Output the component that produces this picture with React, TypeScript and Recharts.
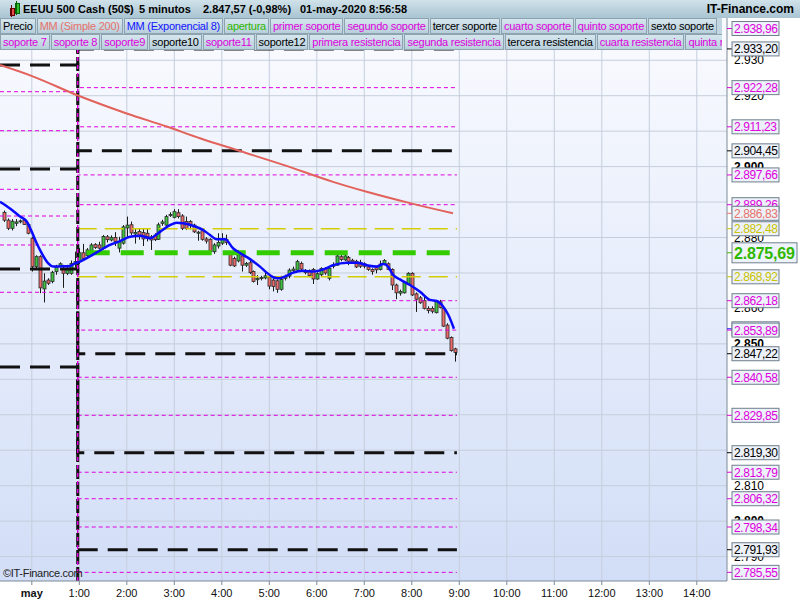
import React from 'react';
import { ComposedChart, Bar, Line, XAxis, YAxis, CartesianGrid, ReferenceLine } from 'recharts';

// time axis: hours after 00:00 on 1 May (negative = 30 Apr)
const X_MIN = -0.6695;
const X_MAX = 14.636;
const FIRST_CANDLE = -35 / 60; // 23:25
const SESSION_SPLIT = 58 / 60;
const LEVEL_END = 8.95;

const HOUR_TICKS = [0, 1, 2, 3, 4, 5, 6, 7, 8, 9, 10, 11, 12, 13, 14];
const HOUR_LABELS = ['may', '1:00', '2:00', '3:00', '4:00', '5:00', '6:00', '7:00', '8:00', '9:00', '10:00', '11:00', '12:00', '13:00', '14:00'];

const Y_MIN = 2783.11;
const Y_MAX = 2947.0;
const ROUND_TICKS = [2930, 2920, 2910, 2900, 2890, 2880, 2870, 2860, 2850, 2840, 2830, 2820, 2810, 2800, 2790];

// 5 minute candles, 23:25 -> 8:55
const OPEN = [
  2887.1, 2884.9, 2882.6, 2884.0, 2884.5, 2884.9, 2883.7, 2879.8, 2871.8, 2874.6,
  2865.5, 2868.0, 2867.6, 2870.4, 2872.0, 2871.3, 2869.9, 2869.9, 2872.7, 2873.2,
  2875.7, 2874.9, 2876.0, 2878.0, 2877.9, 2877.0, 2880.2, 2879.3, 2880.0, 2877.0,
  2878.4, 2882.7, 2883.6, 2881.0, 2881.7, 2881.4, 2881.2, 2880.2, 2880.7, 2879.5,
  2884.0, 2883.5, 2886.2, 2885.7, 2887.0, 2886.1, 2884.5, 2884.5, 2883.5, 2881.2,
  2881.9, 2879.6, 2879.5, 2876.0, 2877.6, 2878.4, 2879.5, 2875.6, 2874.1, 2873.4,
  2874.8, 2872.2, 2872.9, 2870.4, 2868.1, 2868.4, 2868.6, 2868.8, 2868.0, 2867.8,
  2865.4, 2868.5, 2869.1, 2870.7, 2870.8, 2872.7, 2870.6, 2870.7, 2871.0, 2868.3,
  2869.5, 2871.3, 2868.5, 2871.9, 2872.2, 2874.6, 2873.7, 2874.4, 2873.6, 2873.3,
  2873.0, 2872.6, 2871.7, 2871.0, 2871.5, 2871.0, 2872.5, 2872.6, 2871.0, 2866.6,
  2864.3, 2864.4, 2866.9, 2869.9, 2864.1, 2863.0, 2862.2, 2860.0, 2860.0, 2858.8,
  2861.9, 2860.0, 2855.3, 2851.8, 2848.6,
];
const HIGH = [
  2887.6, 2885.4, 2885.2, 2885.2, 2885.1, 2885.3, 2884.0, 2880.2, 2875.0, 2875.0,
  2869.9, 2868.5, 2870.6, 2872.3, 2873.0, 2872.3, 2872.3, 2873.5, 2876.0, 2877.0,
  2878.2, 2877.0, 2878.4, 2878.4, 2878.8, 2880.7, 2880.7, 2880.6, 2881.5, 2880.2,
  2883.5, 2885.9, 2884.5, 2882.5, 2882.5, 2882.5, 2882.5, 2880.7, 2881.2, 2884.2,
  2885.0, 2886.4, 2887.1, 2888.0, 2888.0, 2886.6, 2885.9, 2884.9, 2883.9, 2881.9,
  2882.2, 2880.1, 2879.8, 2878.4, 2881.2, 2881.2, 2880.8, 2876.0, 2874.6, 2876.5,
  2875.1, 2873.1, 2873.5, 2870.7, 2869.4, 2869.2, 2870.0, 2869.4, 2868.5, 2868.2,
  2869.2, 2869.5, 2871.3, 2871.8, 2873.7, 2873.2, 2871.1, 2871.0, 2871.4, 2870.2,
  2871.6, 2871.6, 2871.6, 2873.0, 2875.1, 2875.1, 2875.1, 2874.8, 2874.0, 2873.7,
  2873.7, 2873.0, 2872.0, 2871.3, 2872.0, 2873.5, 2873.9, 2873.0, 2871.3, 2867.0,
  2865.3, 2867.6, 2870.2, 2870.2, 2864.5, 2863.5, 2863.5, 2860.6, 2860.6, 2862.2,
  2862.4, 2860.6, 2855.8, 2852.1, 2848.9,
];
const LOW = [
  2884.4, 2882.1, 2882.0, 2883.2, 2884.0, 2883.6, 2880.9, 2870.4, 2870.8, 2864.3,
  2861.7, 2866.6, 2867.1, 2869.5, 2871.6, 2865.8, 2869.4, 2869.5, 2871.5, 2872.5,
  2873.9, 2874.4, 2875.6, 2876.8, 2876.6, 2876.6, 2878.6, 2878.9, 2877.6, 2875.8,
  2878.0, 2880.0, 2880.7, 2878.3, 2879.4, 2877.6, 2878.9, 2876.5, 2879.0, 2879.3,
  2883.3, 2883.2, 2885.8, 2885.4, 2885.4, 2882.1, 2882.1, 2882.3, 2881.3, 2879.1,
  2879.1, 2878.3, 2875.7, 2875.4, 2876.9, 2877.9, 2877.9, 2871.9, 2871.7, 2873.0,
  2870.4, 2871.7, 2869.7, 2867.3, 2866.6, 2867.9, 2868.2, 2865.4, 2864.8, 2864.4,
  2865.0, 2867.9, 2868.5, 2870.2, 2870.4, 2870.6, 2869.6, 2868.8, 2866.9, 2868.1,
  2869.0, 2869.5, 2867.9, 2871.3, 2872.0, 2873.3, 2873.4, 2872.2, 2872.6, 2871.4,
  2871.4, 2871.3, 2870.6, 2869.5, 2869.9, 2870.7, 2872.2, 2870.8, 2865.2, 2862.6,
  2863.6, 2864.2, 2866.6, 2863.5, 2859.0, 2861.3, 2859.7, 2858.6, 2858.6, 2858.6,
  2860.0, 2854.8, 2851.3, 2847.8, 2845.0,
];
const CLOSE = [
  2884.9, 2882.6, 2884.6, 2884.4, 2884.7, 2883.7, 2881.2, 2871.8, 2874.6, 2865.8,
  2867.7, 2867.1, 2870.2, 2871.6, 2872.6, 2869.9, 2871.3, 2872.7, 2873.2, 2875.7,
  2874.1, 2876.5, 2877.9, 2877.2, 2877.0, 2880.3, 2879.4, 2880.0, 2878.9, 2878.9,
  2883.0, 2883.5, 2881.3, 2881.4, 2880.6, 2879.6, 2880.2, 2879.3, 2879.4, 2883.6,
  2884.4, 2885.9, 2886.5, 2887.3, 2885.9, 2882.6, 2882.6, 2883.3, 2881.6, 2881.5,
  2879.5, 2879.0, 2876.0, 2877.9, 2878.6, 2879.5, 2878.6, 2872.2, 2872.0, 2875.1,
  2872.2, 2872.7, 2870.1, 2867.6, 2868.5, 2868.7, 2869.2, 2866.3, 2866.2, 2865.4,
  2868.2, 2868.9, 2870.8, 2871.1, 2873.2, 2871.1, 2870.1, 2869.3, 2868.3, 2869.8,
  2871.3, 2870.0, 2871.3, 2872.3, 2874.8, 2873.8, 2874.8, 2873.3, 2873.1, 2871.7,
  2871.9, 2871.9, 2871.0, 2870.4, 2870.9, 2872.5, 2873.5, 2871.0, 2866.6, 2864.4,
  2864.8, 2867.3, 2869.9, 2863.8, 2862.6, 2861.6, 2860.0, 2859.4, 2859.2, 2861.9,
  2860.3, 2855.0, 2851.6, 2848.1, 2847.57,
];

// MM (Simple 200)
const SMA_T = [-0.6695, 0.032, 0.945, 1.998, 2.84, 3.541, 4.383, 5.295, 6.341, 7.051, 7.962, 8.867];
const SMA_V = [2928.66, 2925.4, 2920.2, 2915.0, 2911.3, 2908.0, 2904.4, 2900.5, 2895.7, 2892.9, 2889.7, 2886.83];

// MM (Exponencial 8)
const EMA_T = [
  -0.6695, -0.459, -0.248, -0.107, 0.0, 0.103, 0.208, 0.347, 0.453, 0.629, 0.804, 0.909,
  1.015, 1.156, 1.366, 1.646, 1.857, 2.067, 2.278, 2.488, 2.699, 2.909, 3.051, 3.189,
  3.4, 3.611, 3.752, 3.893, 4.067, 4.242, 4.383, 4.594, 4.804, 4.945, 5.084, 5.189,
  5.295, 5.505, 5.716, 5.926, 6.137, 6.347, 6.629, 6.84, 7.051, 7.261, 7.4, 7.486,
  7.611, 7.752, 7.962, 8.173, 8.383, 8.524, 8.663, 8.768, 8.888,
];
const EMA_V = [
  2890.1, 2888.2, 2885.9, 2884.5, 2881.6, 2878.4, 2875.6, 2872.7, 2871.8, 2871.9, 2872.0, 2872.7,
  2873.2, 2874.2, 2875.8, 2877.9, 2879.0, 2880.2, 2880.5, 2879.8, 2881.6, 2883.5, 2884.2, 2884.0,
  2883.3, 2882.1, 2880.7, 2879.5, 2879.5, 2876.9, 2875.6, 2873.9, 2871.8, 2870.1, 2868.8, 2868.5,
  2868.8, 2870.1, 2870.6, 2870.4, 2871.0, 2872.2, 2872.9, 2872.9, 2872.2, 2871.8, 2872.5, 2872.0,
  2869.4, 2868.2, 2866.6, 2864.7, 2862.4, 2862.1, 2860.5, 2858.2, 2854.25,
];

// supports / resistances of today, with yesterday's value (null = not drawn)
const LEVEL_VALUE = [
  2938.96, 2933.2, 2922.28, 2911.23, 2904.45, 2897.66, 2889.26, 2882.48, 2875.69, 2868.92,
  2862.18, 2853.89, 2847.22, 2840.58, 2829.85, 2819.3, 2813.79, 2806.32, 2798.34, 2791.93, 2785.55,
];
const LEVEL_PREV = [
  null, 2928.66, 2921.13, 2910.13, 2899.33, 2893.6, 2886.07, null, null, null,
  2877.89, 2864.55, 2871.12, null, null, 2843.48, null, null, null, null, null,
];
const LEVEL_KIND = ['m', 'k', 'm', 'm', 'k', 'm', 'm', 'y', 'g', 'y', 'm', 'm', 'k', 'm', 'm', 'k', 'm', 'm', 'm', 'k', 'm'];

const LEGEND_ROW1 = ['Precio', 'MM (Simple 200)', 'MM (Exponencial 8)', 'apertura', 'primer soporte', 'segundo soporte', 'tercer soporte', 'cuarto soporte', 'quinto soporte', 'sexto soporte'];
const LEGEND_ROW1_KIND = ['k', 'sma', 'ema', 'g', 'm', 'm', 'k', 'm', 'm', 'k'];
const LEGEND_ROW2 = ['soporte 7', 'soporte 8', 'soporte9', 'soporte10', 'soporte11', 'soporte12', 'primera resistencia', 'segunda resistencia', 'tercera resistencia', 'cuarta resistencia', 'quinta resistencia'];
const LEGEND_ROW2_KIND = ['m', 'm', 'm', 'k', 'm', 'k', 'm', 'm', 'k', 'm', 'm'];

const TEXT_COLOR: Record<string, string> = {
  m: '#dd00dd', k: '#000000', y: '#c8c300', g: '#2fb800', sma: '#e8716a', ema: '#1414ff',
};
const LINE_STYLE: Record<string, { stroke: string; w: number; dash: string; offset: number }> = {
  m: { stroke: '#e000e0', w: 1, dash: '4 3', offset: 0 },
  k: { stroke: '#111111', w: 3, dash: '20 10', offset: 0 },
  y: { stroke: '#d4ce00', w: 1.5, dash: '19 8', offset: 0 },
  g: { stroke: '#33cc00', w: 5, dash: '23 11', offset: 25 },
};

const candles = OPEN.map((o, i) => ({ t: FIRST_CANDLE + (i * 5) / 60, o, h: HIGH[i], l: LOW[i], c: CLOSE[i] }));
const smaData = SMA_T.map((t, i) => ({ t, v: SMA_V[i] }));
const emaData = EMA_T.map((t, i) => ({ t, v: EMA_V[i] }));

const levels = LEVEL_VALUE.map((v, i) => {
  const prev = LEVEL_PREV[i];
  const pts = prev == null
    ? [{ t: SESSION_SPLIT, v }, { t: LEVEL_END, v }]
    : [{ t: X_MIN, v: prev }, { t: SESSION_SPLIT, v }, { t: LEVEL_END, v }];
  return { kind: LEVEL_KIND[i], pts };
});

// boxed labels on the price axis
const axisLabels = [
  ...LEVEL_VALUE.map((v, i) => ({ v, kind: LEVEL_KIND[i] })),
  { v: SMA_V[SMA_V.length - 1], kind: 'sma' },
  { v: EMA_V[EMA_V.length - 1], kind: 'ema' },
].sort((a, b) => b.v - a.v);
const labelKind = new Map(axisLabels.map((d) => [d.v, d.kind]));
// round values that sit right under a boxed label are hidden in the original
const visibleRound = ROUND_TICKS.filter((r) => !axisLabels.some((d) => Math.abs(d.v - r) < 1.6));
const yTicks = [...visibleRound, ...axisLabels.map((d) => d.v)];

const fmt = (v: number, d: number) => {
  const [i, f] = v.toFixed(d).split('.');
  const ii = i.replace(/\B(?=(\d{3})+(?!\d))/g, '.');
  return f ? `${ii},${f}` : ii;
};

const FONT = '"Liberation Sans", Arial, sans-serif';

const YTick = ({ x, y, payload }: any) => {
  const v = payload.value;
  const kind = labelKind.get(v);
  if (!kind) {
    return (
      <text x={x + 7} y={y + 4} fontSize={12} fontFamily={FONT} fontWeight={v % 50 === 0 ? 700 : 400} fill="#000">
        {fmt(v, 0)}
      </text>
    );
  }
  const col = TEXT_COLOR[kind];
  if (kind === 'g') {
    return (
      <g>
        <line x1={x} x2={x + 5} y1={y} y2={y} stroke={col} />
        <rect x={x + 5} y={y - 10} width={65} height={20} fill="#eef2fa" stroke="#6f7f8d" />
        <text x={x + 7} y={y + 6} fontSize={16} letterSpacing={-0.2} fontWeight={700} fontFamily={FONT} fill={col}>{fmt(v, 2)}</text>
      </g>
    );
  }
  return (
    <g>
      <line x1={x} x2={x + 5} y1={y} y2={y} stroke={col} />
      <rect x={x + 5} y={y - 7} width={47} height={14} fill="#edf1f9" stroke="#6f7f8d" />
      <text x={x + 7} y={y + 4.5} fontSize={12} letterSpacing={-0.4} fontFamily={FONT} fill={col}>{fmt(v, 2)}</text>
    </g>
  );
};

const XTick = ({ x, y, payload }: any) => {
  const idx = HOUR_TICKS.indexOf(payload.value);
  return (
    <text x={x} y={y + 10} textAnchor="middle" fontSize={11} fontFamily={FONT} fontWeight={idx === 0 ? 700 : 400} fill="#111">
      {HOUR_LABELS[idx]}
    </text>
  );
};

const Candle = (props: any) => {
  const { x, y, width, height, payload } = props;
  const { o, h, l, c } = payload;
  const top = Math.min(y, y + height);
  const span = Math.abs(height);
  const px = (v: number) => (h === l ? top : top + ((h - v) / (h - l)) * span);
  const cx = Math.round(x + width / 2) + 0.5;
  const bTop = px(Math.max(o, c));
  const bH = Math.max(1, px(Math.min(o, c)) - bTop);
  const up = c >= o;
  return (
    <g>
      <line x1={cx} x2={cx} y1={top} y2={top + span} stroke="#1a1a1a" strokeWidth={1} />
      <rect x={cx - 1.5} y={bTop} width={3} height={bH} fill={up ? '#3fc23f' : '#ee6b6b'} stroke="#2a2a2a" strokeWidth={0.8} />
    </g>
  );
};

const legendBox = (label: string, kind: string) => (
  <div
    key={label}
    style={{
      flex: 'none',
      height: 14,
      lineHeight: '14px',
      padding: '0 2px',
      marginRight: 1,
      border: '1px solid #8da3b0',
      background: 'linear-gradient(#d6e6ee, #b8cfdb)',
      color: TEXT_COLOR[kind],
      fontSize: 11,
      letterSpacing: -0.25,
      whiteSpace: 'nowrap',
    }}
  >
    {label}
  </div>
);

const rowStyle = (top: number): React.CSSProperties => ({
  position: 'absolute', left: 0, top, width: 722, height: 16, display: 'flex', overflow: 'hidden',
  background: '#c2d6e1',
});

export default function App() {
  return (
    <div style={{ position: 'absolute', left: 0, top: 0, width: 800, height: 600, background: '#fff', overflow: 'hidden', fontFamily: FONT }}>
      <div style={{ position: 'absolute', left: 0, top: 0, width: 727, height: 581, background: 'linear-gradient(#fbfcff, #d2def7)' }} />
      <div style={{ position: 'absolute', left: 0, top: 0 }}>
        <ComposedChart width={800} height={600} data={candles} margin={{ top: 0, right: 0, bottom: 0, left: 0 }}>
          <CartesianGrid stroke="#c6cedc" horizontalValues={ROUND_TICKS} verticalValues={HOUR_TICKS} />
          <XAxis
            dataKey="t"
            type="number"
            domain={[X_MIN, X_MAX]}
            allowDataOverflow
            ticks={HOUR_TICKS}
            interval={0}
            height={19}
            tickSize={4}
            tickLine={{ stroke: '#7d8a97' }}
            axisLine={{ stroke: '#7d8a97' }}
            tick={<XTick />}
          />
          <YAxis
            orientation="right"
            type="number"
            domain={[Y_MIN, Y_MAX]}
            allowDataOverflow
            ticks={yTicks}
            interval={0}
            width={73}
            tickSize={0}
            tickMargin={0}
            tickLine={false}
            axisLine={{ stroke: '#7d8a97' }}
            tick={<YTick />}
          />
          {levels.map((lv, i) => {
            const s = LINE_STYLE[lv.kind];
            return (
              <Line
                key={`lv-${i}`}
                data={lv.pts}
                dataKey="v"
                type="stepAfter"
                stroke={s.stroke}
                strokeWidth={s.w}
                strokeDasharray={s.dash}
                strokeDashoffset={s.offset}
                dot={false}
                activeDot={false}
                isAnimationActive={false}
              />
            );
          })}
          <ReferenceLine x={SESSION_SPLIT} stroke="#111" strokeWidth={3} strokeDasharray="14 3" />
          <ReferenceLine x={SESSION_SPLIT} stroke="#e000e0" strokeWidth={1.5} strokeDasharray="4 4" />
          <Line data={smaData} dataKey="v" type="monotone" stroke="#e2625c" strokeWidth={2} dot={false} activeDot={false} isAnimationActive={false} />
          <Bar dataKey={(d: any) => [d.l, d.h]} barSize={3} shape={<Candle />} isAnimationActive={false} />
          <Line data={emaData} dataKey="v" type="monotone" stroke="#0a0aff" strokeWidth={2.5} dot={false} activeDot={false} isAnimationActive={false} />
        </ComposedChart>
      </div>

      {/* title bar */}
      <div style={{ position: 'absolute', left: 0, top: 0, width: 800, height: 18, background: 'linear-gradient(#d0e2ea, #a9c4d2)', fontSize: 11, fontWeight: 700, lineHeight: '18px', color: '#000' }}>
        <div style={{ position: 'absolute', left: 10, top: 8, width: 3, height: 6, background: '#e05050', border: '1px solid #600' }} />
        <div style={{ position: 'absolute', left: 11, top: 5, width: 1, height: 12, background: '#600' }} />
        <div style={{ position: 'absolute', left: 15, top: 3, width: 3, height: 9, background: '#30c030', border: '1px solid #060' }} />
        <div style={{ position: 'absolute', left: 16, top: 1, width: 1, height: 14, background: '#060' }} />
        <span style={{ position: 'absolute', left: 23 }}>EEUU 500 Cash (50$)</span>
        <span style={{ position: 'absolute', left: 139 }}>5 minutos</span>
        <span style={{ position: 'absolute', left: 203 }}>2.847,57 (-0,98%)</span>
        <span style={{ position: 'absolute', left: 300 }}>01-may-2020 8:56:58</span>
        <span style={{ position: 'absolute', right: 6, fontSize: 12 }}>IT-Finance.com</span>
      </div>

      {/* legend rows */}
      <div style={rowStyle(18)}>{LEGEND_ROW1.map((l, i) => legendBox(l, LEGEND_ROW1_KIND[i]))}</div>
      <div style={rowStyle(34)}>{LEGEND_ROW2.map((l, i) => legendBox(l, LEGEND_ROW2_KIND[i]))}</div>

      <div style={{ position: 'absolute', left: 3, top: 567, fontSize: 11, color: '#222', letterSpacing: -0.3 }}>©IT-Finance.com</div>
    </div>
  );
}
